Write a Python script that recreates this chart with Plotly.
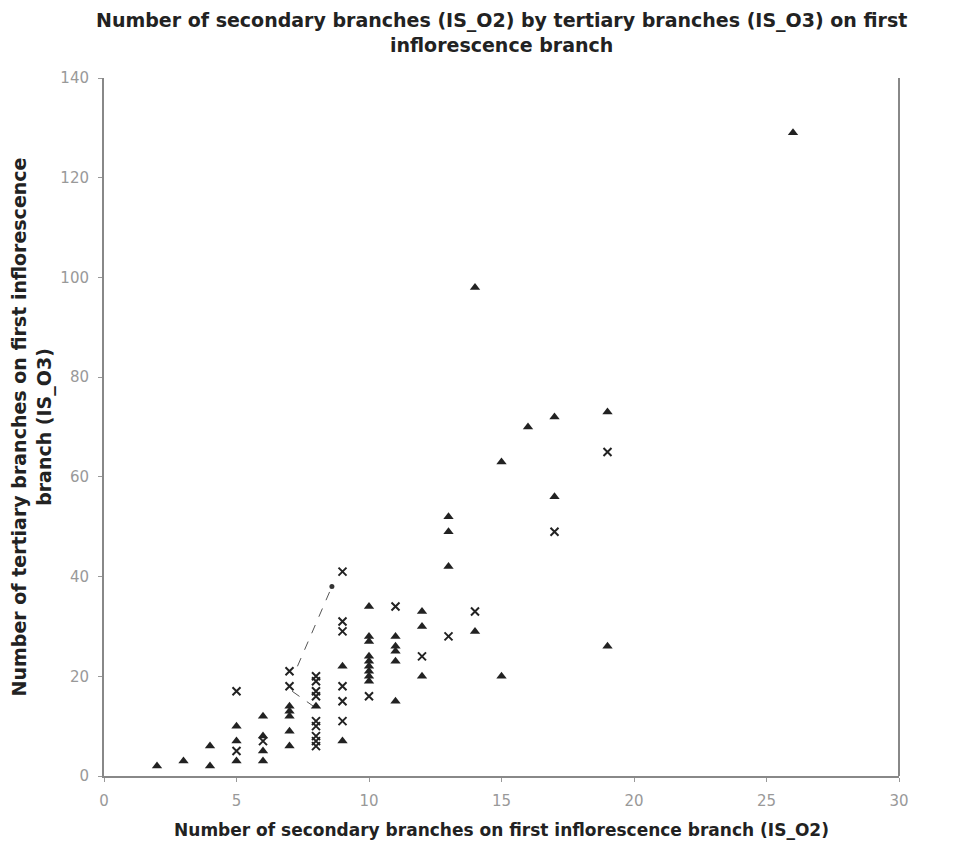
import plotly.graph_objects as go

# Series 1: triangles (IS_O2, IS_O3)
tri_x = [2, 3, 4, 4, 5, 5, 5, 6, 6, 6, 6, 7, 7, 7, 7, 7, 8, 9, 9,
         10, 10, 10, 10, 10, 10, 10, 10, 10, 11, 11, 11, 11, 11,
         12, 12, 12, 13, 13, 13, 14, 14, 15, 15, 16, 17, 17, 19, 19, 26]
tri_y = [2, 3, 2, 6, 3, 7, 10, 3, 5, 8, 12, 6, 9, 12, 13, 14, 14, 7, 22,
         19, 20, 21, 22, 23, 24, 27, 28, 34, 15, 23, 25, 26, 28,
         20, 30, 33, 42, 49, 52, 29, 98, 20, 63, 70, 56, 72, 26, 73, 129]

# Series 2: crosses
crs_x = [5, 5, 6, 7, 7, 8, 8, 8, 8, 8, 8, 8, 8, 8,
         9, 9, 9, 9, 9, 9, 10, 11, 12, 13, 14, 17, 19]
crs_y = [5, 17, 7, 18, 21, 6, 7, 8, 10, 11, 16, 17, 19, 20,
         11, 15, 18, 29, 31, 41, 16, 34, 24, 28, 33, 49, 65]

# Dashed leader lines
lead1_x = [7.3, 8.6]
lead1_y = [22, 38]
lead2_x = [7.1, 7.9]
lead2_y = [17, 14]

x_ticks = [0, 5, 10, 15, 20, 25, 30]
y_ticks = [0, 20, 40, 60, 80, 100, 120, 140]

title_lines = ["Number of secondary branches (IS_O2) by tertiary branches (IS_O3) on first",
               "inflorescence branch"]
x_title = "Number of secondary branches on first inflorescence branch (IS_O2)"
y_title_lines = ["Number of tertiary branches on first inflorescence", "branch (IS_O3)"]


def bold_lines(lines):
    return "<br>".join("<b>" + s + "</b>" for s in lines)


fig = go.Figure()
for lx, ly in [(lead1_x, lead1_y), (lead2_x, lead2_y)]:
    fig.add_trace(go.Scatter(x=lx, y=ly, mode="lines",
                             line=dict(color="#555555", width=1, dash="dash"),
                             showlegend=False, hoverinfo="skip"))
fig.add_trace(go.Scatter(x=[lead1_x[-1]], y=[lead1_y[-1]], mode="markers",
                         marker=dict(symbol="circle", size=5, color="#333333"),
                         showlegend=False, hoverinfo="skip"))
fig.add_trace(go.Scatter(x=tri_x, y=tri_y, mode="markers",
                         marker=dict(symbol="triangle-up", size=9, color="#222222"),
                         showlegend=False))
fig.add_trace(go.Scatter(x=crs_x, y=crs_y, mode="markers",
                         marker=dict(symbol="x-thin", size=8, color="#222222",
                                     line=dict(width=2, color="#222222")),
                         showlegend=False))

fig.update_layout(
    width=945, height=845,
    margin=dict(l=96, r=54, t=70, b=77),
    paper_bgcolor="white", plot_bgcolor="white",
    font=dict(family="DejaVu Sans"),
)
fig.add_annotation(text=bold_lines(title_lines), xref="paper", yref="paper",
                   x=0.5, y=1.029, xanchor="center", yanchor="bottom",
                   showarrow=False, align="center",
                   font=dict(family="DejaVu Sans", size=19, color="#222222"))

fig.update_xaxes(range=[0, 30], tickvals=x_ticks, ticks="outside", ticklen=4,
                 tickcolor="#999999", showgrid=False, zeroline=False, automargin=False,
                 showline=True, linecolor="#888888", linewidth=2, ticklabelstandoff=6,
                 tickfont=dict(size=15, color="#999999"),
                 title=dict(text="<b>" + x_title + "</b>",
                            font=dict(size=17, color="#222222"), standoff=15))
fig.update_yaxes(range=[0, 140], tickvals=y_ticks, ticks="outside", ticklen=4,
                 tickcolor="#999999", showgrid=False, zeroline=False, automargin=False,
                 showline=True, linecolor="#888888", linewidth=2, ticklabelstandoff=6,
                 tickfont=dict(size=15, color="#999999"),
                 title=dict(text=bold_lines(y_title_lines),
                            font=dict(size=19, color="#222222"), standoff=8))
# right border of plot area
fig.add_shape(type="line", xref="paper", yref="paper", x0=1, x1=1, y0=0, y1=1,
              line=dict(color="#888888", width=2))

fig.write_html("out.html")
